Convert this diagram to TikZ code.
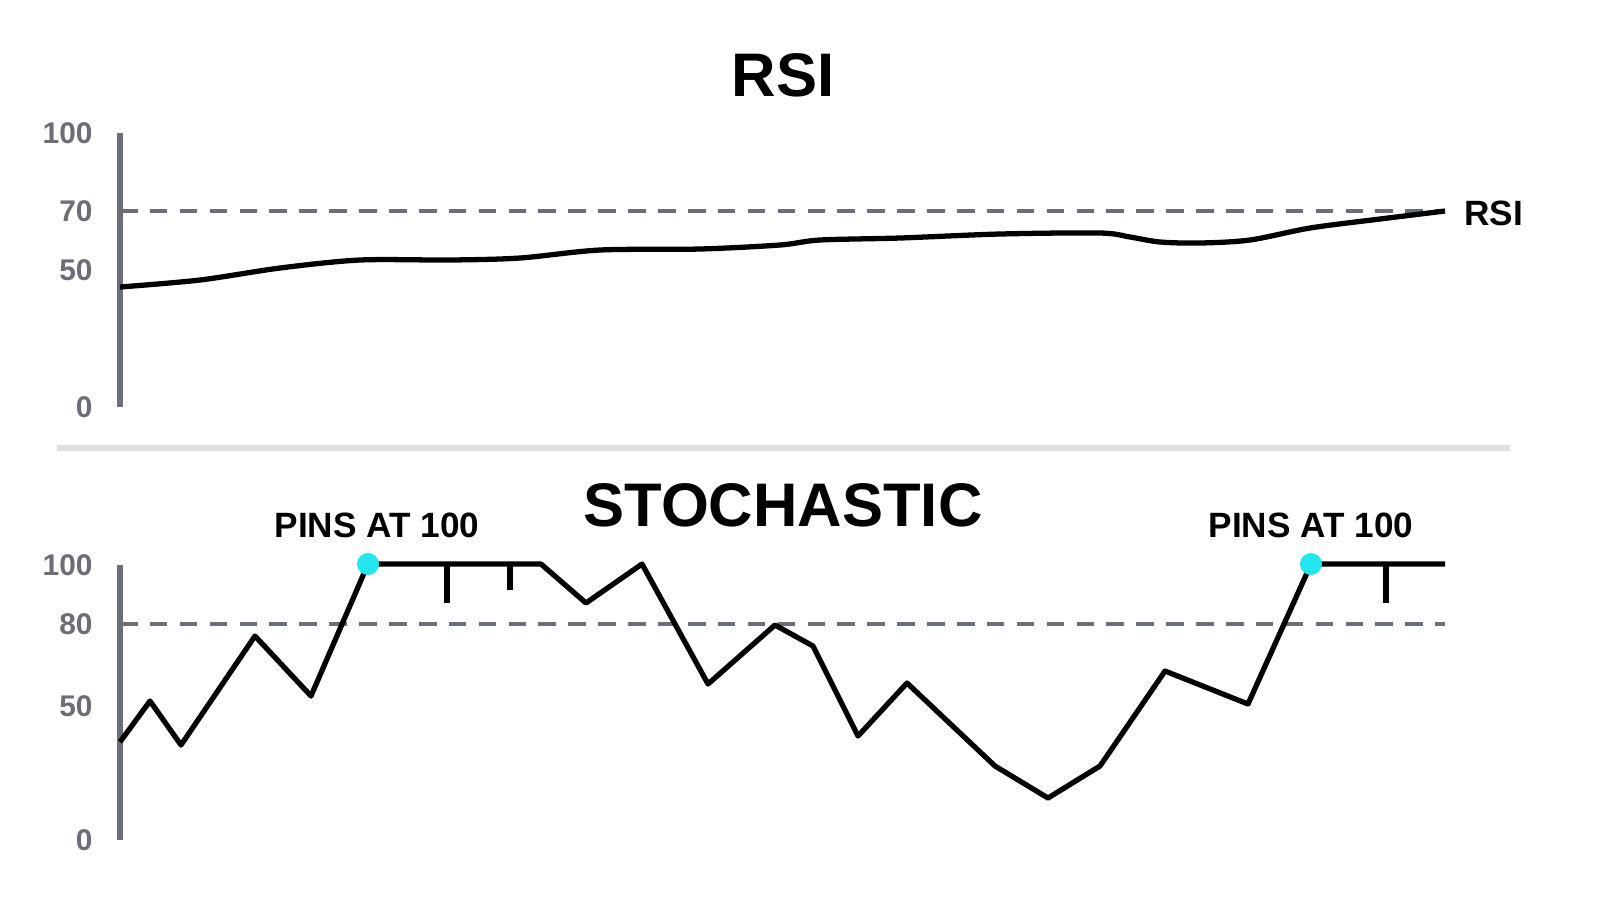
\documentclass[tikz,border=0pt]{standalone}
\usepackage{fontspec}
\setmainfont{Liberation Sans}
\definecolor{axisgray}{HTML}{6B6E78}
\definecolor{pincyan}{HTML}{22E5EE}
\begin{document}
\begin{tikzpicture}[x=0.01cm,y=-0.01cm,
	tick/.style={font=\bfseries\fontsize{8.5}{8.5}\selectfont,text=axisgray,anchor=east},
	title/.style={font=\bfseries\fontsize{17.5}{17.5}\selectfont},
	label/.style={font=\bfseries\fontsize{10}{10}\selectfont},
	guide/.style={axisgray,dash pattern=on 5pt off 3.5pt,line width=1.2pt},
	curve/.style={black,line width=1.5pt,line join=round}]
	\useasboundingbox (0,0) rectangle (1600,914);
	\node[title] at (783,75)(t1){RSI};
	\node[tick] at (105,133)(a100){100};
	\node[tick] at (105,211)(a70){70};
	\node[tick] at (105,270)(a50){50};
	\node[tick] at (105,407)(a0){0};
	\coordinate (top1) at (120,133);
	\coordinate (bot1) at (120,407);
	\coordinate (d1) at (120,211);
	\coordinate (e1) at (1445,211);
	\draw[axisgray,line width=1.5pt](top1)--(bot1);
	\draw[guide](d1)--(e1);
	\draw[curve] plot[smooth,tension=0.5] coordinates{(120,287)(200,280)(280,268)(360,260)(450,260)(520,258)(600,250)(700,249)(780,245)(820,240)(900,238)(1000,234)(1100,233)(1130,237)(1160,242)(1200,243)(1250,240)(1310,228)(1380,219)(1445,211)};
	\node[label,anchor=west] at (1452,213)(r){RSI};

	\draw[black!12,line width=1.5pt](57,448)--(1510,448);

	\node[title] at (783,505)(t2){STOCHASTIC};
	\node[tick] at (105,565)(b100){100};
	\node[tick] at (105,624)(b80){80};
	\node[tick] at (105,706)(b50){50};
	\node[tick] at (105,840)(b0){0};
	\coordinate (top2) at (120,565);
	\coordinate (bot2) at (120,840);
	\coordinate (d2) at (120,624);
	\coordinate (e2) at (1445,624);
	\draw[axisgray,line width=1.5pt](top2)--(bot2);
	\draw[guide](d2)--(e2);
	\draw[curve](120,742)--(150,701)--(181,745)--(255,636)--(311,696)--(368,564)--(541,564)--(586,603)--(642,564)--(708,684)--(775,625)--(813,646)--(858,736)--(907,683)--(995,766)--(1048,798)--(1100,766)--(1165,671)--(1248,704)--(1311,564)--(1445,564);
	\draw[curve](447,564)--(447,603)(510,564)--(510,590)(1386,564)--(1386,603);
	\node[circle,fill=pincyan,inner sep=0pt,minimum size=0.22cm] at (368,564)(p1){};
	\node[circle,fill=pincyan,inner sep=0pt,minimum size=0.22cm] at (1311,564)(p2){};
	\node[label] at (377,525)(l1){PINS AT 100};
	\node[label] at (1311,525)(l2){PINS AT 100};
\end{tikzpicture}
\end{document}
